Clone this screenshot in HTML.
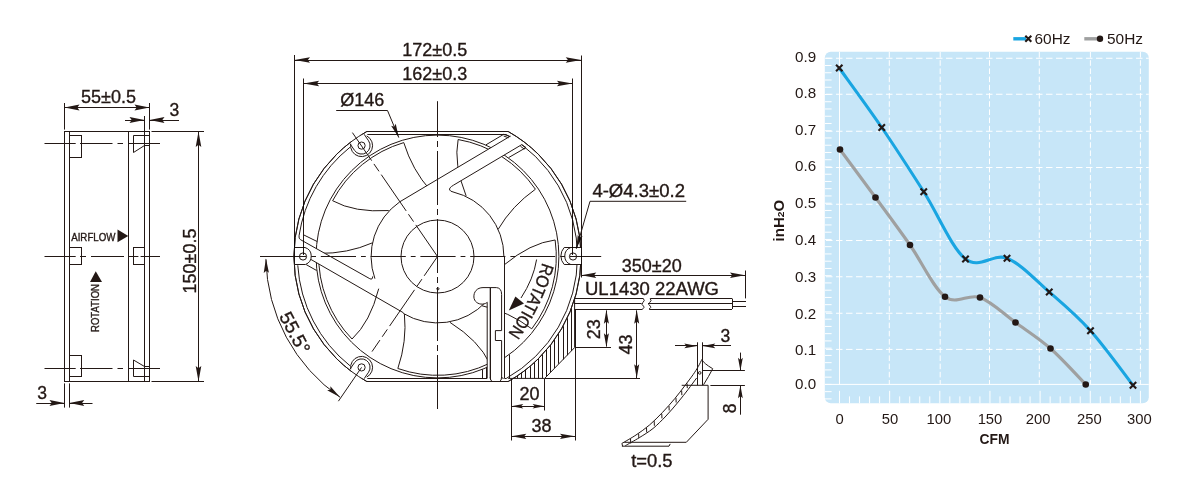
<!DOCTYPE html>
<html lang="en">
<head>
<meta charset="utf-8">
<title>Fan outline drawing and performance curve</title>
<style>
html,body{margin:0;padding:0;background:#fff;}
body{width:1200px;height:500px;overflow:hidden;}
svg{display:block;font-family:"Liberation Sans",sans-serif;}
.d line,.d path,.d circle,.d rect,.d polyline{stroke:#231815;stroke-width:1;fill:none;}
.d .f{fill:#231815;stroke:none;}
.d .w{fill:#fff;}
.d text{fill:#231815;stroke:#231815;stroke-width:0.35;}
.d,#chart{mix-blend-mode:multiply;}
.cl{stroke-dasharray:28 3 5 3;}
</style>
</head>
<body>
<svg width="1200" height="500" viewBox="0 0 1200 500">
<rect x="0" y="0" width="1200" height="500" fill="#ffffff"/>
<g class="d" id="side-view">
<line x1="64.00" y1="131.50" x2="150.00" y2="131.50" />
<line x1="64.00" y1="381.50" x2="150.00" y2="381.50" />
<line x1="64.50" y1="103.00" x2="64.50" y2="129.60" />
<line x1="64.50" y1="131.50" x2="64.50" y2="381.50" />
<line x1="64.50" y1="383.40" x2="64.50" y2="407.60" />
<line x1="69.50" y1="131.50" x2="69.50" y2="381.50" />
<line x1="69.50" y1="383.40" x2="69.50" y2="407.60" />
<line x1="128.50" y1="131.50" x2="128.50" y2="381.50" />
<line x1="144.50" y1="116.00" x2="144.50" y2="381.50" />
<line x1="149.50" y1="103.00" x2="149.50" y2="129.60" />
<line x1="149.50" y1="131.50" x2="149.50" y2="381.50" />
<line x1="151.50" y1="131.50" x2="204.00" y2="131.50" />
<line x1="151.50" y1="381.50" x2="204.00" y2="381.50" />
<rect x="69.5" y="135.5" width="12" height="22"/>
<rect x="69.5" y="247.5" width="12" height="17"/>
<rect x="69.5" y="355.5" width="12" height="21"/>
<path d="M149.5,135.5H133.5V152.5L144.5,145.5H149.5" />
<rect x="133.5" y="247.5" width="11" height="17"/>
<path d="M149.5,376.5H133.5V360L144.5,366.5H149.5" />
<line x1="44.50" y1="143.50" x2="75.70" y2="143.50" />
<line x1="80.00" y1="143.50" x2="112.50" y2="143.50" />
<line x1="117.50" y1="143.50" x2="123.00" y2="143.50" />
<line x1="128.50" y1="143.50" x2="160.00" y2="143.50" />
<line x1="44.50" y1="368.50" x2="75.70" y2="368.50" />
<line x1="80.00" y1="368.50" x2="112.50" y2="368.50" />
<line x1="117.50" y1="368.50" x2="123.00" y2="368.50" />
<line x1="128.50" y1="368.50" x2="160.00" y2="368.50" />
<line x1="44.50" y1="256.50" x2="75.70" y2="256.50" />
<line x1="80.00" y1="256.50" x2="86.00" y2="256.50" />
<line x1="91.00" y1="256.50" x2="124.00" y2="256.50" />
<line x1="128.50" y1="256.50" x2="138.40" y2="256.50" />
<line x1="140.60" y1="256.50" x2="160.00" y2="256.50" />
<line x1="64.50" y1="107.50" x2="149.50" y2="107.50" />
<polygon class="f" points="64.50,107.50 79.50,104.60 77.30,107.50 79.50,110.40"/>
<polygon class="f" points="149.50,107.50 134.50,110.40 136.70,107.50 134.50,104.60"/>
<text x="108.50" y="102.50" font-size="18" text-anchor="middle" >55±0.5</text>
<line x1="125.00" y1="120.50" x2="144.50" y2="120.50" />
<polygon class="f" points="144.50,120.00 129.50,122.90 131.70,120.00 129.50,117.10"/>
<line x1="149.50" y1="120.50" x2="179.00" y2="120.50" />
<polygon class="f" points="149.50,120.00 164.50,117.10 162.30,120.00 164.50,122.90"/>
<text x="174.30" y="116.40" font-size="17.5" text-anchor="middle" >3</text>
<line x1="36.25" y1="403.50" x2="64.50" y2="403.50" />
<polygon class="f" points="64.50,403.00 49.50,405.90 51.70,403.00 49.50,400.10"/>
<line x1="69.25" y1="403.50" x2="92.50" y2="403.50" />
<polygon class="f" points="69.25,403.00 84.25,400.10 82.05,403.00 84.25,405.90"/>
<text x="42.20" y="398.80" font-size="17.5" text-anchor="middle" >3</text>
<line x1="198.50" y1="131.50" x2="198.50" y2="381.50" />
<polygon class="f" points="198.50,131.50 201.30,147.00 198.50,144.80 195.70,147.00"/>
<polygon class="f" points="198.50,381.50 195.70,366.00 198.50,368.20 201.30,366.00"/>
<text transform="translate(195.5,261) rotate(-90)" font-size="18" text-anchor="middle">150±0.5</text>
<text x="71.20" y="240.80" font-size="10.5" text-anchor="start" textLength="44.3" lengthAdjust="spacingAndGlyphs" >AIRFLOW</text>
<polygon class="f" points="117.5,229.5 128.25,236 117.5,242.2"/>
<polygon class="f" points="95.75,271.2 102,282 90,282"/>
<text transform="translate(98.75,332) rotate(-90)" font-size="10.5" textLength="48" lengthAdjust="spacingAndGlyphs">ROTATION</text>
</g>
<g class="d" id="front-view">
<path d="M366.82,131.5H508.18A143.6,143.6 0 0 1 508.18,381.5H366.82A143.6,143.6 0 0 1 366.82,131.5Z" />
<line x1="367.33" y1="134.50" x2="506.17" y2="134.50" />
<line x1="367.33" y1="378.50" x2="506.17" y2="378.50" />
<path d="M506.17,134.50A140.0,140.0 0 0 1 506.17,378.50" />
<path d="M299.04,235.81A140.0,140.0 0 0 1 349.97,147.24" />
<path d="M349.97,365.76A140.0,140.0 0 0 1 297.78,265.29" />
<path d="M508.18,378.4H544.7L574.6,347.6V299.5" />
<line x1="517.50" y1="375.60" x2="517.50" y2="378.40" stroke-width="0.7" />
<line x1="521.50" y1="372.72" x2="521.50" y2="378.40" stroke-width="0.7" />
<line x1="525.50" y1="369.62" x2="525.50" y2="378.40" stroke-width="0.7" />
<line x1="530.50" y1="366.27" x2="530.50" y2="378.40" stroke-width="0.7" />
<line x1="534.50" y1="362.66" x2="534.50" y2="378.40" stroke-width="0.7" />
<line x1="538.50" y1="358.76" x2="538.50" y2="378.40" stroke-width="0.7" />
<line x1="542.50" y1="354.52" x2="542.50" y2="378.40" stroke-width="0.7" />
<line x1="546.50" y1="349.92" x2="546.50" y2="376.48" stroke-width="0.7" />
<line x1="550.50" y1="344.88" x2="550.50" y2="372.24" stroke-width="0.7" />
<line x1="554.50" y1="339.34" x2="554.50" y2="368.00" stroke-width="0.7" />
<line x1="558.50" y1="333.17" x2="558.50" y2="363.75" stroke-width="0.7" />
<line x1="563.50" y1="326.22" x2="563.50" y2="359.51" stroke-width="0.7" />
<line x1="567.50" y1="318.22" x2="567.50" y2="355.26" stroke-width="0.7" />
<line x1="571.50" y1="308.69" x2="571.50" y2="351.02" stroke-width="0.7" />
<circle cx="437.5" cy="256.5" r="121.4"/>
<path d="M503.96,265.01Q530.50,243.00 555.14,239.97A118.8,118.8 0 0 1 531.75,328.82Q508.70,311.60 482.02,305.77" stroke-width="0.7" />
<path d="M449.94,322.34Q479.08,340.78 489.58,363.28A118.8,118.8 0 0 1 397.84,368.49Q407.10,341.24 404.40,314.06" stroke-width="0.7" />
<path d="M378.73,288.67Q370.20,322.09 352.04,339.03A118.8,118.8 0 0 1 318.74,253.39Q347.51,253.77 372.53,242.81" stroke-width="0.7" />
<path d="M388.74,210.55Q354.33,212.76 332.61,200.73A118.8,118.8 0 0 1 403.76,142.59Q412.28,170.07 430.44,190.48" stroke-width="0.7" />
<path d="M466.13,195.93Q453.40,163.88 458.13,139.50A118.8,118.8 0 0 1 535.41,189.21Q511.91,205.81 498.11,229.39" stroke-width="0.7" />
<polygon class="w" style="stroke:none" points="399.60,201.90 510.40,136.10 511.2,136.0 514,137.4 516.9,139.2 519.8,141.6 522.4,144.2 521.80,144.60 450.40,187.00 452,191"/>
<line x1="399.60" y1="201.90" x2="510.40" y2="136.10" />
<line x1="453.60" y1="185.10" x2="521.80" y2="144.60" />
<line x1="486.00" y1="144.80" x2="503.70" y2="134.30" />
<line x1="503.70" y1="134.30" x2="510.40" y2="136.60" />
<line x1="503.60" y1="136.00" x2="508.60" y2="137.80" stroke-width="0.6" />
<line x1="508.60" y1="157.60" x2="526.00" y2="147.60" />
<line x1="521.80" y1="144.60" x2="526.00" y2="147.60" />
<line x1="520.40" y1="146.20" x2="524.40" y2="149.20" stroke-width="0.6" />
<polygon class="w" style="stroke:none" points="300.40,239.60 369.80,278.70 372,276 372,294.6 311.00,259.50 303,247.7"/>
<path d="M299.04,235.81Q298.6,238.6 300.40,239.60L369.80,278.70Q372.6,280.2 372.7,276.4" />
<line x1="311.00" y1="259.50" x2="403.50" y2="312.80" />
<line x1="303.90" y1="235.00" x2="317.30" y2="241.60" />
<line x1="306.20" y1="264.60" x2="316.60" y2="270.50" />
<path d="M374.91,278.66A66.4,66.4 0 0 1 399.60,201.98" stroke-width="1.5" />
<path d="M486.06,301.78A66.4,66.4 0 0 1 403.30,313.42" stroke-width="1.5" />
<path d="M453.6,185.1Q448.6,188.0 449.7,190.0Q450.4,191.5 453.00,191.93A66.4,66.4 0 0 1 503.90,256.5" stroke-width="1.5" />
<circle cx="437.5" cy="256.5" r="36.5"/>
<circle cx="437.9" cy="288.8" r="1.1" stroke-width="0.8"/>
<path class="w" style="stroke:none" d="M487.2,302V380H504.6V257H503.8Q503,275 490,288Z"/>
<path class="w" style="stroke:none" d="M490,287.6H483C477,287.6 473.6,292 473.9,297C474.1,301.5 478,304.4 482.6,304.1C485,303.9 486.6,303 488,301.8Z"/>
<path d="M490.2,378.6V287.6H483C477,287.6 473.6,292 473.9,297C474.1,301.5 478,304.4 482.6,304.1C485,303.9 486.6,303 487.2,302.2V378.2" stroke-width="1.0" />
<line x1="490.50" y1="287.60" x2="490.50" y2="379.60" stroke-width="1.3" />
<path d="M490.2,287.6H496.5Q501.6,288 501.6,294.5V330.6H495.4V340.5H501.6V377.0Q501.8,378.4 503.6,378.4" />
<line x1="504.50" y1="256.50" x2="504.50" y2="378.40" />
<rect class="w" style="stroke:none" x="491.4" y="377.2" width="9.6" height="5"/>
<path d="M490.2,377.4Q490.4,381.2 492.2,381.2" />
<path d="M501.6,377.0Q501.4,381.2 499.8,381.2" />
<line x1="482.50" y1="369.33" x2="482.50" y2="378.20" stroke-width="0.6" />
<line x1="486.50" y1="367.79" x2="486.50" y2="378.20" stroke-width="0.6" />
<line x1="509.50" y1="354.54" x2="509.50" y2="378.20" stroke-width="0.6" />
<circle class="w" style="stroke:none" cx="361.57" cy="145.60" r="11"/>
<path d="M350.74,143.69A11,11 0 1 0 366.73,135.89" />
<path d="M364.12,134.28L368.58,140.80A8.5,8.5 0 0 1 354.55,150.41L350.09,143.89" />
<circle cx="361.57" cy="145.60" r="3.6"/>
<circle class="w" style="stroke:none" cx="361.57" cy="367.40" r="11"/>
<path d="M350.74,369.31A11,11 0 1 1 366.73,377.11" />
<path d="M350.09,369.11L354.55,362.59A8.5,8.5 0 0 1 368.58,372.20L364.12,378.72" />
<circle cx="361.57" cy="367.40" r="3.6"/>
<path d="M366.82,131.5H508.18A143.6,143.6 0 0 1 508.18,381.5H366.82A143.6,143.6 0 0 1 366.82,131.5Z" />
<path class="w" d="M294.5,247.5H305A9,9 0 0 1 305.4,264.5H294.5"/>
<circle cx="303" cy="256.5" r="3.6"/>
<path class="w" d="M581.5,247.5H570.8A9,9 0 0 0 570.8,264.5H581.5"/>
<path d="M581.5,247.5H564.2A12.6,12.6 0 0 0 564.2,264.5H581.5" />
<circle cx="573" cy="256.5" r="3.6"/>
<path d="M536.6,259.5Q533.5,279 521,298" stroke-width="0.8" />
<polygon class="f" points="508.8,310.4 515.4,296.6 524.0,303.4"/>
<defs><path id="rotArc" d="M542.4,262.6Q530.6,301.4 506.4,336.4"/></defs>
<text font-size="17.6"><textPath href="#rotArc" textLength="79.5" lengthAdjust="spacingAndGlyphs">ROTATION</textPath></text>
<line x1="260.00" y1="256.50" x2="272.00" y2="256.50" />
<line x1="260.00" y1="256.50" x2="601.20" y2="256.50" stroke-dasharray="35.2 5 4.8 4.8" stroke-dashoffset="38.8"/>
<line x1="437.50" y1="101.20" x2="437.50" y2="410.00" stroke-dasharray="54 4 6 4" stroke-dashoffset="18.2"/>
<line x1="352.40" y1="132.60" x2="437.50" y2="256.50" stroke-dasharray="44 4 9 4" stroke-dashoffset="10"/>
<line x1="372.00" y1="351.60" x2="437.50" y2="256.50" stroke-dasharray="44 4 9 4" stroke-dashoffset="30"/>
<line x1="361.57" y1="367.40" x2="338.40" y2="401.20" />
</g>
<g class="d" id="dimensions">
<line x1="294.50" y1="55.00" x2="294.50" y2="264.40" />
<line x1="581.50" y1="55.50" x2="581.50" y2="277.50" />
<line x1="294.50" y1="60.50" x2="581.25" y2="60.50" />
<polygon class="f" points="294.50,60.00 310.00,57.30 307.80,60.00 310.00,62.70"/>
<polygon class="f" points="581.25,60.00 565.75,62.70 567.95,60.00 565.75,57.30"/>
<text x="434.70" y="56.30" font-size="18" text-anchor="middle" >172±0.5</text>
<line x1="303.50" y1="78.50" x2="303.50" y2="255.00" />
<line x1="572.50" y1="78.50" x2="572.50" y2="255.00" />
<line x1="303.60" y1="83.50" x2="572.50" y2="83.50" />
<polygon class="f" points="303.60,83.50 319.10,80.80 316.90,83.50 319.10,86.20"/>
<polygon class="f" points="572.50,83.50 557.00,86.20 559.20,83.50 557.00,80.80"/>
<text x="434.70" y="79.60" font-size="18" text-anchor="middle" >162±0.3</text>
<text x="340.30" y="106.30" font-size="18" text-anchor="start" textLength="44" lengthAdjust="spacingAndGlyphs" >Ø146</text>
<path d="M336.2,110.5H387.5L398.8,137.6" />
<polygon class="f" points="398.80,137.60 391.11,125.64 394.27,126.71 395.73,123.71"/>
<text x="592.40" y="197.10" font-size="18" text-anchor="start" textLength="92.6" lengthAdjust="spacingAndGlyphs" >4-Ø4.3±0.2</text>
<path d="M686.2,201.3H590L576.3,248.8" />
<polygon class="f" points="576.30,248.80 577.78,234.66 579.57,237.46 582.58,236.04"/>
<path d="M265.93,259.29A171.6,171.6 0 0 0 340.06,397.25" />
<polygon class="f" points="265.95,258.40 268.93,272.83 266.27,270.70 263.73,272.96"/>
<polygon class="f" points="340.10,397.30 327.13,390.31 330.47,389.64 330.37,386.24"/>
<text transform="translate(295.0,332.6) rotate(62.2)" font-size="18.9" text-anchor="middle" dy="6.7">55.5°</text>
<line x1="574.60" y1="298.50" x2="643.40" y2="298.50" />
<line x1="574.60" y1="303.50" x2="641.60" y2="303.50" />
<line x1="574.60" y1="309.50" x2="642.60" y2="309.50" />
<line x1="650.20" y1="298.50" x2="732.00" y2="298.50" />
<line x1="648.00" y1="303.50" x2="732.00" y2="303.50" />
<line x1="649.20" y1="309.50" x2="732.00" y2="309.50" />
<path d="M643.4,298.6Q645.4,300.6 642.8,302.6Q640.8,304.6 643.6,306.2Q644.8,307.4 642.6,309.0" />
<path d="M650.2,298.6Q652.2,300.6 649.6,302.6Q647.6,304.6 650.4,306.2Q651.6,307.4 649.2,309.0" />
<line x1="732.50" y1="298.60" x2="732.50" y2="309.00" />
<line x1="732.00" y1="301.50" x2="746.00" y2="301.50" stroke-width="1.3" />
<line x1="732.00" y1="306.50" x2="746.00" y2="306.50" stroke-width="1.3" />
<line x1="745.50" y1="270.50" x2="745.50" y2="298.40" />
<line x1="581.25" y1="275.50" x2="745.00" y2="275.50" />
<polygon class="f" points="581.25,275.20 596.25,272.50 594.05,275.20 596.25,277.90"/>
<polygon class="f" points="745.00,275.20 730.00,277.90 732.20,275.20 730.00,272.50"/>
<text x="651.80" y="272.00" font-size="18" text-anchor="middle" >350±20</text>
<text x="585.00" y="295.00" font-size="18" text-anchor="start" textLength="134" lengthAdjust="spacingAndGlyphs" >UL1430 22AWG</text>
<line x1="575.20" y1="347.50" x2="611.00" y2="347.50" />
<line x1="606.50" y1="310.50" x2="606.50" y2="346.50" />
<polygon class="f" points="606.40,309.80 608.90,323.80 606.40,321.60 603.90,323.80"/>
<polygon class="f" points="606.40,347.20 603.90,333.20 606.40,335.40 608.90,333.20"/>
<text transform="translate(600.2,329.2) rotate(-90)" font-size="18" text-anchor="middle">23</text>
<line x1="636.50" y1="310.50" x2="636.50" y2="378.00" />
<polygon class="f" points="636.70,309.80 639.20,323.80 636.70,321.60 634.20,323.80"/>
<polygon class="f" points="636.70,378.20 634.20,364.20 636.70,366.40 639.20,364.20"/>
<text transform="translate(632.4,344.6) rotate(-90)" font-size="18" text-anchor="middle">43</text>
<line x1="544.70" y1="378.50" x2="640.00" y2="378.50" />
<line x1="511.50" y1="379.00" x2="511.50" y2="440.50" />
<line x1="544.50" y1="379.00" x2="544.50" y2="410.50" />
<line x1="575.50" y1="309.00" x2="575.50" y2="440.50" />
<line x1="511.30" y1="406.50" x2="544.60" y2="406.50" />
<polygon class="f" points="511.30,406.30 523.30,404.00 521.10,406.30 523.30,408.60"/>
<polygon class="f" points="544.60,406.30 532.60,408.60 534.80,406.30 532.60,404.00"/>
<text x="529.40" y="399.60" font-size="18" text-anchor="middle" >20</text>
<line x1="511.30" y1="436.50" x2="575.00" y2="436.50" />
<polygon class="f" points="511.30,436.30 526.30,433.70 524.10,436.30 526.30,438.90"/>
<polygon class="f" points="575.00,436.30 560.00,438.90 562.20,436.30 560.00,433.70"/>
<text x="541.60" y="431.80" font-size="18" text-anchor="middle" >38</text>
<path d="M681.7,385.3H708.1V419.3L686.3,442.3H624.2" />
<path d="M621.9,446.2H669L670.2,443.9" />
<path d="M621.90,443.40C624.25,442.00 631.40,438.07 636.00,435.00C640.60,431.93 645.08,428.77 649.50,425.00C653.92,421.23 658.28,416.80 662.50,412.40C666.72,408.00 671.12,403.00 674.80,398.60C678.48,394.20 681.53,390.02 684.60,386.00C687.67,381.98 690.93,377.73 693.20,374.50C695.47,371.27 696.75,369.10 698.20,366.60C699.65,364.10 701.28,360.68 701.90,359.50" />
<path d="M625.30,445.70C627.65,444.35 634.78,440.47 639.40,437.60C644.02,434.73 648.57,432.10 653.00,428.50C657.43,424.90 661.80,420.42 666.00,416.00C670.20,411.58 674.53,406.40 678.20,402.00C681.87,397.60 684.93,393.60 688.00,389.60C691.07,385.60 695.17,379.93 696.60,378.00" />
<path d="M621.9,443.4L622.6,446.2" />
<path d="M701.9,359.5Q703.6,363.4 712.7,368.7Q709,376 703.5,384.8" />
<line x1="630.51" y1="438.81" x2="630.71" y2="443.41" stroke-width="0.75" />
<line x1="638.63" y1="433.65" x2="638.83" y2="438.25" stroke-width="0.75" />
<line x1="646.49" y1="427.82" x2="646.69" y2="432.42" stroke-width="0.75" />
<line x1="654.19" y1="421.14" x2="654.39" y2="425.74" stroke-width="0.75" />
<line x1="661.76" y1="413.80" x2="661.96" y2="418.40" stroke-width="0.75" />
<line x1="668.99" y1="405.87" x2="669.19" y2="410.47" stroke-width="0.75" />
<line x1="675.96" y1="397.92" x2="676.16" y2="402.52" stroke-width="0.75" />
<line x1="681.67" y1="390.58" x2="681.87" y2="395.18" stroke-width="0.75" />
<line x1="687.09" y1="383.51" x2="687.29" y2="388.11" stroke-width="0.75" />
<circle cx="699.7" cy="372.9" r="1.3" stroke-width="0.6"/>
<line x1="697.50" y1="342.30" x2="697.50" y2="385.30" />
<line x1="702.50" y1="342.30" x2="702.50" y2="385.30" />
<line x1="675.00" y1="345.50" x2="697.30" y2="345.50" />
<polygon class="f" points="697.30,345.90 684.30,348.30 686.50,345.90 684.30,343.50"/>
<line x1="702.30" y1="345.50" x2="731.00" y2="345.50" />
<polygon class="f" points="702.30,345.90 715.30,343.50 713.10,345.90 715.30,348.30"/>
<text x="725.40" y="341.80" font-size="17.5" text-anchor="middle" >3</text>
<line x1="702.40" y1="370.50" x2="744.90" y2="370.50" />
<line x1="710.40" y1="385.50" x2="744.90" y2="385.50" />
<line x1="740.50" y1="352.60" x2="740.50" y2="370.70" />
<polygon class="f" points="740.40,370.70 738.00,357.70 740.40,359.90 742.80,357.70"/>
<line x1="740.50" y1="385.30" x2="740.50" y2="414.70" />
<polygon class="f" points="740.40,385.30 742.80,398.30 740.40,396.10 738.00,398.30"/>
<text transform="translate(736.0,408.4) rotate(-90)" font-size="17.5" text-anchor="middle">8</text>
<text x="631.20" y="467.00" font-size="18" text-anchor="start" textLength="41.4" lengthAdjust="spacingAndGlyphs" >t=0.5</text>
</g>
<g id="chart">
<rect x="824.8" y="51.8" width="324" height="351.5" rx="6" ry="6" fill="#c7e6f8"/>
<g stroke="#ffffff" stroke-width="1" fill="none">
<line x1="826" y1="58.25" x2="1148.8" y2="58.25" stroke-dasharray="6.5 3.5"/>
<line x1="826" y1="94.25" x2="1148.8" y2="94.25" stroke-dasharray="6.5 3.5"/>
<line x1="826" y1="131.25" x2="1148.8" y2="131.25" stroke-dasharray="6.5 3.5"/>
<line x1="826" y1="167.5" x2="1148.8" y2="167.5" stroke-dasharray="6.5 3.5"/>
<line x1="826" y1="204.25" x2="1148.8" y2="204.25" stroke-dasharray="6.5 3.5"/>
<line x1="826" y1="240.5" x2="1148.8" y2="240.5" stroke-dasharray="6.5 3.5"/>
<line x1="826" y1="276.75" x2="1148.8" y2="276.75" stroke-dasharray="6.5 3.5"/>
<line x1="826" y1="313.25" x2="1148.8" y2="313.25" stroke-dasharray="6.5 3.5"/>
<line x1="826" y1="349.4" x2="1148.8" y2="349.4" stroke-dasharray="6.5 3.5"/>
<line x1="889.3" y1="52" x2="889.3" y2="384.4" stroke-dasharray="5.6 2.6"/>
<line x1="940.2" y1="52" x2="940.2" y2="384.4" stroke-dasharray="5.6 2.6"/>
<line x1="989.5" y1="52" x2="989.5" y2="384.4" stroke-dasharray="5.6 2.6"/>
<line x1="1039.3" y1="52" x2="1039.3" y2="384.4" stroke-dasharray="5.6 2.6"/>
<line x1="1090.4" y1="52" x2="1090.4" y2="384.4" stroke-dasharray="5.6 2.6"/>
<line x1="1140.4" y1="52" x2="1140.4" y2="384.4" stroke-dasharray="5.6 2.6"/>
<line x1="839.5" y1="52" x2="839.5" y2="384.4"/>
<line x1="825" y1="384.4" x2="1148.8" y2="384.4"/>
<line x1="825" y1="398.90" x2="831.6" y2="398.90"/>
<line x1="825" y1="391.65" x2="831.6" y2="391.65"/>
<line x1="825" y1="384.40" x2="831.6" y2="384.40"/>
<line x1="825" y1="377.15" x2="831.6" y2="377.15"/>
<line x1="825" y1="369.90" x2="831.6" y2="369.90"/>
<line x1="825" y1="362.66" x2="831.6" y2="362.66"/>
<line x1="825" y1="355.41" x2="831.6" y2="355.41"/>
<line x1="825" y1="348.16" x2="831.6" y2="348.16"/>
<line x1="825" y1="340.91" x2="831.6" y2="340.91"/>
<line x1="825" y1="333.67" x2="831.6" y2="333.67"/>
<line x1="825" y1="326.42" x2="831.6" y2="326.42"/>
<line x1="825" y1="319.17" x2="831.6" y2="319.17"/>
<line x1="825" y1="311.92" x2="831.6" y2="311.92"/>
<line x1="825" y1="304.67" x2="831.6" y2="304.67"/>
<line x1="825" y1="297.43" x2="831.6" y2="297.43"/>
<line x1="825" y1="290.18" x2="831.6" y2="290.18"/>
<line x1="825" y1="282.93" x2="831.6" y2="282.93"/>
<line x1="825" y1="275.68" x2="831.6" y2="275.68"/>
<line x1="825" y1="268.44" x2="831.6" y2="268.44"/>
<line x1="825" y1="261.19" x2="831.6" y2="261.19"/>
<line x1="825" y1="253.94" x2="831.6" y2="253.94"/>
<line x1="825" y1="246.69" x2="831.6" y2="246.69"/>
<line x1="825" y1="239.44" x2="831.6" y2="239.44"/>
<line x1="825" y1="232.20" x2="831.6" y2="232.20"/>
<line x1="825" y1="224.95" x2="831.6" y2="224.95"/>
<line x1="825" y1="217.70" x2="831.6" y2="217.70"/>
<line x1="825" y1="210.45" x2="831.6" y2="210.45"/>
<line x1="825" y1="203.21" x2="831.6" y2="203.21"/>
<line x1="825" y1="195.96" x2="831.6" y2="195.96"/>
<line x1="825" y1="188.71" x2="831.6" y2="188.71"/>
<line x1="825" y1="181.46" x2="831.6" y2="181.46"/>
<line x1="825" y1="174.21" x2="831.6" y2="174.21"/>
<line x1="825" y1="166.97" x2="831.6" y2="166.97"/>
<line x1="825" y1="159.72" x2="831.6" y2="159.72"/>
<line x1="825" y1="152.47" x2="831.6" y2="152.47"/>
<line x1="825" y1="145.22" x2="831.6" y2="145.22"/>
<line x1="825" y1="137.98" x2="831.6" y2="137.98"/>
<line x1="825" y1="130.73" x2="831.6" y2="130.73"/>
<line x1="825" y1="123.48" x2="831.6" y2="123.48"/>
<line x1="825" y1="116.23" x2="831.6" y2="116.23"/>
<line x1="825" y1="108.98" x2="831.6" y2="108.98"/>
<line x1="825" y1="101.74" x2="831.6" y2="101.74"/>
<line x1="825" y1="94.49" x2="831.6" y2="94.49"/>
<line x1="825" y1="87.24" x2="831.6" y2="87.24"/>
<line x1="825" y1="79.99" x2="831.6" y2="79.99"/>
<line x1="825" y1="72.75" x2="831.6" y2="72.75"/>
<line x1="825" y1="65.50" x2="831.6" y2="65.50"/>
<line x1="825" y1="58.25" x2="831.6" y2="58.25"/>
<line x1="839.50" y1="390.8" x2="839.50" y2="403.3"/>
<line x1="849.53" y1="396.4" x2="849.53" y2="403.3"/>
<line x1="859.56" y1="396.4" x2="859.56" y2="403.3"/>
<line x1="869.59" y1="396.4" x2="869.59" y2="403.3"/>
<line x1="879.62" y1="396.4" x2="879.62" y2="403.3"/>
<line x1="889.65" y1="390.8" x2="889.65" y2="403.3"/>
<line x1="899.68" y1="396.4" x2="899.68" y2="403.3"/>
<line x1="909.71" y1="396.4" x2="909.71" y2="403.3"/>
<line x1="919.74" y1="396.4" x2="919.74" y2="403.3"/>
<line x1="929.77" y1="396.4" x2="929.77" y2="403.3"/>
<line x1="939.80" y1="390.8" x2="939.80" y2="403.3"/>
<line x1="949.83" y1="396.4" x2="949.83" y2="403.3"/>
<line x1="959.86" y1="396.4" x2="959.86" y2="403.3"/>
<line x1="969.89" y1="396.4" x2="969.89" y2="403.3"/>
<line x1="979.92" y1="396.4" x2="979.92" y2="403.3"/>
<line x1="989.95" y1="390.8" x2="989.95" y2="403.3"/>
<line x1="999.98" y1="396.4" x2="999.98" y2="403.3"/>
<line x1="1010.01" y1="396.4" x2="1010.01" y2="403.3"/>
<line x1="1020.04" y1="396.4" x2="1020.04" y2="403.3"/>
<line x1="1030.07" y1="396.4" x2="1030.07" y2="403.3"/>
<line x1="1040.10" y1="390.8" x2="1040.10" y2="403.3"/>
<line x1="1050.13" y1="396.4" x2="1050.13" y2="403.3"/>
<line x1="1060.16" y1="396.4" x2="1060.16" y2="403.3"/>
<line x1="1070.19" y1="396.4" x2="1070.19" y2="403.3"/>
<line x1="1080.22" y1="396.4" x2="1080.22" y2="403.3"/>
<line x1="1090.25" y1="390.8" x2="1090.25" y2="403.3"/>
<line x1="1100.28" y1="396.4" x2="1100.28" y2="403.3"/>
<line x1="1110.31" y1="396.4" x2="1110.31" y2="403.3"/>
<line x1="1120.34" y1="396.4" x2="1120.34" y2="403.3"/>
<line x1="1130.37" y1="396.4" x2="1130.37" y2="403.3"/>
<line x1="1140.40" y1="390.8" x2="1140.40" y2="403.3"/>
</g>
<path d="M840.00,149.50C845.92,157.50 863.83,181.58 875.50,197.50C887.17,213.42 898.42,228.46 910.00,245.00C921.58,261.54 933.33,288.00 945.00,296.75C956.67,305.50 968.25,293.21 980.00,297.50C991.75,301.79 1003.75,314.00 1015.50,322.50C1027.25,331.00 1038.79,338.17 1050.50,348.50C1062.21,358.83 1079.88,378.50 1085.75,384.50" fill="none" stroke="#9fa0a0" stroke-width="3.1" stroke-linecap="round" stroke-linejoin="round"/>
<path d="M839.25,68.00C846.33,77.92 867.67,106.88 881.75,127.50C895.83,148.12 909.79,169.83 923.75,191.75C937.71,213.67 951.62,247.92 965.50,259.00C979.38,270.08 993.04,252.75 1007.00,258.25C1020.96,263.75 1035.33,279.92 1049.25,292.00C1063.17,304.08 1076.54,315.21 1090.50,330.75C1104.46,346.29 1125.92,376.17 1133.00,385.25" fill="none" stroke="#19a5e1" stroke-width="3.1" stroke-linecap="round" stroke-linejoin="round"/>
<circle cx="840" cy="149.5" r="3.3" fill="#231815"/>
<circle cx="875.5" cy="197.5" r="3.3" fill="#231815"/>
<circle cx="910" cy="245" r="3.3" fill="#231815"/>
<circle cx="945" cy="296.75" r="3.3" fill="#231815"/>
<circle cx="980" cy="297.5" r="3.3" fill="#231815"/>
<circle cx="1015.5" cy="322.5" r="3.3" fill="#231815"/>
<circle cx="1050.5" cy="348.5" r="3.3" fill="#231815"/>
<circle cx="1085.75" cy="384.5" r="3.3" fill="#231815"/>
<path d="M836.05,64.80L842.45,71.20M836.05,71.20L842.45,64.80" stroke="#231815" stroke-width="2.1" fill="none"/>
<path d="M878.55,124.30L884.95,130.70M878.55,130.70L884.95,124.30" stroke="#231815" stroke-width="2.1" fill="none"/>
<path d="M920.55,188.55L926.95,194.95M920.55,194.95L926.95,188.55" stroke="#231815" stroke-width="2.1" fill="none"/>
<path d="M962.30,255.80L968.70,262.20M962.30,262.20L968.70,255.80" stroke="#231815" stroke-width="2.1" fill="none"/>
<path d="M1003.80,255.05L1010.20,261.45M1003.80,261.45L1010.20,255.05" stroke="#231815" stroke-width="2.1" fill="none"/>
<path d="M1046.05,288.80L1052.45,295.20M1046.05,295.20L1052.45,288.80" stroke="#231815" stroke-width="2.1" fill="none"/>
<path d="M1087.30,327.55L1093.70,333.95M1087.30,333.95L1093.70,327.55" stroke="#231815" stroke-width="2.1" fill="none"/>
<path d="M1129.80,382.05L1136.20,388.45M1129.80,388.45L1136.20,382.05" stroke="#231815" stroke-width="2.1" fill="none"/>
<line x1="1013.3" y1="38.8" x2="1026" y2="38.8" stroke="#19a5e1" stroke-width="3.4"/>
<path d="M1025.30,35.80L1031.30,41.80M1025.30,41.80L1031.30,35.80" stroke="#231815" stroke-width="2.1" fill="none"/>
<line x1="1084.3" y1="38.8" x2="1098" y2="38.8" stroke="#9fa0a0" stroke-width="3.4"/>
<circle cx="1100" cy="38.8" r="3.2" fill="#231815"/>
<g fill="#231815">
<text x="1034.5" y="43.8" font-size="14.2" textLength="36" lengthAdjust="spacingAndGlyphs">60Hz</text>
<text x="1107" y="43.8" font-size="14.2" textLength="36" lengthAdjust="spacingAndGlyphs">50Hz</text>
<text x="816.2" y="61.7" font-size="14.8" text-anchor="end" textLength="21.1" lengthAdjust="spacingAndGlyphs">0.9</text>
<text x="816.2" y="97.8" font-size="14.8" text-anchor="end" textLength="21.1" lengthAdjust="spacingAndGlyphs">0.8</text>
<text x="816.2" y="134.6" font-size="14.8" text-anchor="end" textLength="21.1" lengthAdjust="spacingAndGlyphs">0.7</text>
<text x="816.2" y="171.3" font-size="14.8" text-anchor="end" textLength="21.1" lengthAdjust="spacingAndGlyphs">0.6</text>
<text x="816.2" y="208.0" font-size="14.8" text-anchor="end" textLength="21.1" lengthAdjust="spacingAndGlyphs">0.5</text>
<text x="816.2" y="244.5" font-size="14.8" text-anchor="end" textLength="21.1" lengthAdjust="spacingAndGlyphs">0.4</text>
<text x="816.2" y="282.0" font-size="14.8" text-anchor="end" textLength="21.1" lengthAdjust="spacingAndGlyphs">0.3</text>
<text x="816.2" y="318.8" font-size="14.8" text-anchor="end" textLength="21.1" lengthAdjust="spacingAndGlyphs">0.2</text>
<text x="816.2" y="355.0" font-size="14.8" text-anchor="end" textLength="21.1" lengthAdjust="spacingAndGlyphs">0.1</text>
<text x="816.2" y="388.6" font-size="14.8" text-anchor="end" textLength="21.1" lengthAdjust="spacingAndGlyphs">0.0</text>
<text x="839.5" y="423.8" font-size="14.8" text-anchor="middle">0</text>
<text x="890" y="423.8" font-size="14.8" text-anchor="middle">50</text>
<text x="938.9" y="423.8" font-size="14.8" text-anchor="middle">100</text>
<text x="990" y="423.8" font-size="14.8" text-anchor="middle">150</text>
<text x="1038.2" y="423.8" font-size="14.8" text-anchor="middle">200</text>
<text x="1089.3" y="423.8" font-size="14.8" text-anchor="middle">250</text>
<text x="1139.3" y="423.8" font-size="14.8" text-anchor="middle">300</text>
<text x="994.5" y="443.8" font-size="14" font-weight="bold" text-anchor="middle" textLength="30" lengthAdjust="spacingAndGlyphs">CFM</text>
<text transform="translate(783.6,241.4) rotate(-90)" font-size="14" font-weight="bold" textLength="41.6" lengthAdjust="spacingAndGlyphs">inH<tspan font-size="9.5">2</tspan>O</text>
</g>
</g>
</svg>
</body>
</html>
